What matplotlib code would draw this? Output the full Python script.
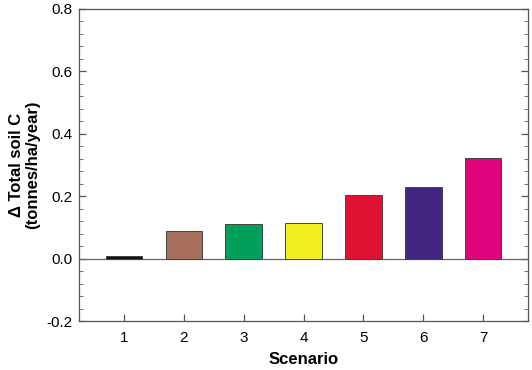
import matplotlib
matplotlib.use("Agg")
import matplotlib.pyplot as plt
from matplotlib.ticker import MultipleLocator

plt.rcParams['font.family'] = ['Liberation Sans', 'DejaVu Sans']

# Scenario results
scenarios = [1, 2, 3, 4, 5, 6, 7]
delta_soil_c = [0.007, 0.089, 0.110, 0.114, 0.205, 0.228, 0.324]
bar_colors = ['#111111', '#A86E5C', '#00A05A', '#F4EE1E', '#DE1230', '#432680', '#E0047C']
ytick_vals = [-0.2, 0.0, 0.2, 0.4, 0.6, 0.8]
ytick_labels = ['-0.2', '0.0', '0.2', '0.4', '0.6', '0.8']

fig = plt.figure(figsize=(5.32, 3.70), dpi=100)
ax = fig.add_axes([0.1485, 0.1324, 0.8440, 0.8433])

ax.bar(scenarios, delta_soil_c, width=0.61, color=bar_colors,
       edgecolor='#444444', linewidth=0.7, zorder=3)
ax.axhline(0, color='#666666', linewidth=0.9, zorder=2)

ax.set_xlim(0.25, 7.75)
ax.set_ylim(-0.2, 0.8)
ax.set_xticks(scenarios)
ax.set_yticks(ytick_vals)
ax.set_yticklabels(ytick_labels)
ax.yaxis.set_minor_locator(MultipleLocator(0.04))

ax.tick_params(axis='y', which='both', direction='in', right=True, labelsize=11,
               color='#555555', pad=5)
ax.tick_params(axis='y', which='major', length=5, width=0.9)
ax.tick_params(axis='y', which='minor', length=3, width=0.6)
ax.tick_params(axis='x', direction='in', length=5, width=0.9, labelsize=11,
               color='#555555', pad=7)

for s in ax.spines.values():
    s.set_color('#555555')
    s.set_linewidth(0.9)

ax.set_xlabel('Scenario', fontsize=12, fontweight='bold', labelpad=5)
ax.set_ylabel('\u0394 Total soil C\n(tonnes/ha/year)', fontsize=12,
              fontweight='bold', labelpad=4, linespacing=1.1)

fig.savefig('out.png', dpi=100)
